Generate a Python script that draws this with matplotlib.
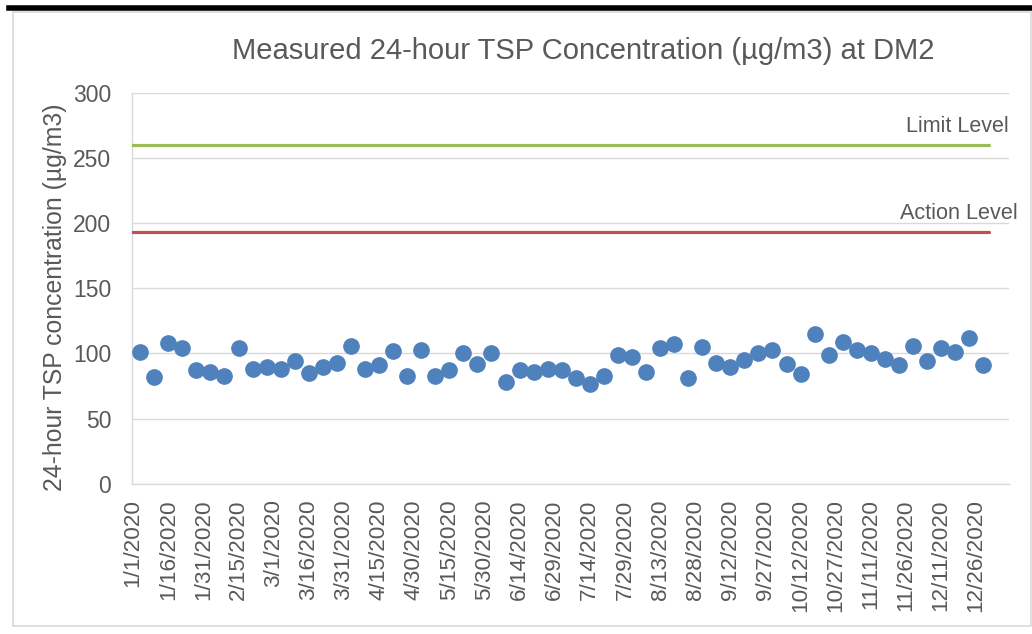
import matplotlib.pyplot as plt
import matplotlib.dates as mdates
import pandas as pd
import numpy as np
from matplotlib.lines import Line2D
from matplotlib.patches import Rectangle

plt.rcParams['font.family'] = ['Liberation Sans', 'DejaVu Sans']

# data
sample_dates = pd.date_range('2020-01-04', periods=61, freq='6D')
tsp = [101, 82, 108, 104, 87, 86, 83, 104, 88, 90, 88, 94, 85, 90, 93, 106,
       88, 91, 102, 83, 103, 83, 87, 100, 92, 100, 78, 87, 86, 88, 87, 81,
       77, 83, 99, 97, 86, 104, 107, 81, 105, 93, 90, 95, 100, 103, 92, 84,
       115, 99, 109, 103, 100, 96, 91, 106, 94, 104, 101, 112, 91]
limit_level = 260
action_level = 193
level_span = ['2020-01-01', '2020-12-31']
tick_dates = pd.date_range('2020-01-01', '2020-12-31', freq='15D')
tick_labels = [f'{d.month}/{d.day}/{d.year}' for d in tick_dates]

text_col = '#595959'
grid_col = '#D9D9D9'

fig = plt.figure(figsize=(10.32, 6.34), dpi=100)
ax = fig.add_axes([0.1279, 0.2366, 0.8498, 0.6175])

x = mdates.date2num(sample_dates)
t0 = mdates.date2num(pd.Timestamp(level_span[0]))
t1 = mdates.date2num(pd.Timestamp(level_span[1]))

# limit / action lines (each date is a bin of one day)
ax.plot([t0 - 0.5, t1 + 0.5], [limit_level, limit_level], color='#9BBB59', lw=2.3,
        solid_capstyle='round', zorder=3)
ax.plot([t0 - 0.5, t1 + 0.5], [action_level, action_level], color='#C0504D', lw=2.3,
        solid_capstyle='round', zorder=3)

ax.plot(x, tsp, 'o', color='#4F81BD', ms=11, mec='#4F81BD', zorder=4)

ax.set_xlim(t0 - 0.5, t0 + 374)
ax.set_ylim(0, 300)
ax.set_yticks(np.arange(0, 301, 50))
ax.set_xticks(mdates.date2num(tick_dates))
ax.set_xticklabels(tick_labels, rotation=90)

ax.grid(axis='y', color=grid_col, lw=1.0)
ax.set_axisbelow(True)
for s in ['top', 'right']:
    ax.spines[s].set_visible(False)
ax.spines['left'].set_color(grid_col)
ax.spines['bottom'].set_color(grid_col)
ax.spines['left'].set_linewidth(1.0)
ax.spines['bottom'].set_linewidth(1.0)
ax.tick_params(axis='y', length=0, pad=15, labelsize=16.5, labelcolor=text_col)
ax.tick_params(axis='x', length=0, pad=11, labelsize=16.2, labelcolor=text_col)

ax.set_ylabel('24-hour TSP concentration (µg/m3)', fontsize=17.8, color=text_col)
ax.yaxis.set_label_coords(-0.074, 0.477)

ax.text(1.0, limit_level + 6, 'Limit Level', ha='right', va='bottom', fontsize=15.5,
        color=text_col, transform=ax.get_yaxis_transform())
ax.text(1.01, action_level + 6, 'Action Level', ha='right', va='bottom', fontsize=15.6,
        color=text_col, transform=ax.get_yaxis_transform())

fig.text(0.5654, 0.92, 'Measured 24-hour TSP Concentration (µg/m3) at DM2',
         ha='center', va='center', fontsize=21, color=text_col)

# chart frame
fig.add_artist(Rectangle((13 / 1032, 1 - 626 / 634), (1031 - 13) / 1032, (626 - 12) / 634,
                         transform=fig.transFigure, fill=False, ec=grid_col, lw=1.2))
fig.add_artist(Line2D([9 / 1032, 1.0], [1 - 7.5 / 634, 1 - 7.5 / 634],
                      transform=fig.transFigure, color='black', lw=4))

fig.savefig('out.png', dpi=100)
